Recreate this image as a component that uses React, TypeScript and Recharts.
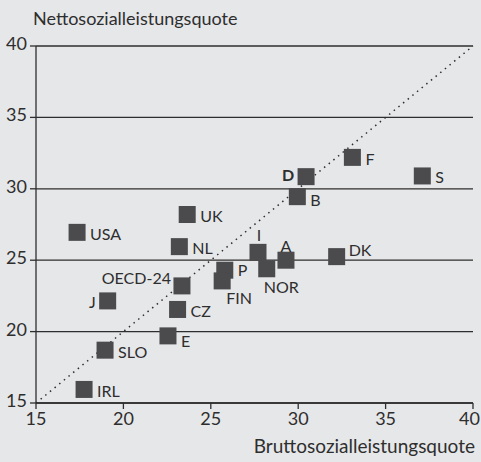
import React from 'react';
import {
  ScatterChart,
  Scatter,
  XAxis,
  YAxis,
  CartesianGrid,
  ReferenceLine
} from 'recharts';

// Länder und Quoten (in % des BIP)
const countries = ['F', 'D', 'S', 'B', 'UK', 'USA', 'NL', 'I', 'A', 'DK', 'NOR', 'P', 'FIN', 'OECD-24', 'J', 'CZ', 'E', 'SLO', 'IRL'];
const brutto = [33.1, 30.45, 37.1, 29.95, 23.65, 17.35, 23.2, 27.7, 29.3, 32.2, 28.2, 25.8, 25.65, 23.35, 19.1, 23.1, 22.55, 18.95, 17.75];
const netto = [32.2, 30.85, 30.9, 29.45, 28.2, 26.95, 25.95, 25.55, 25.0, 25.25, 24.4, 24.3, 23.55, 23.2, 22.15, 21.55, 19.7, 18.7, 15.95];
const ticks = [15, 20, 25, 30, 35, 40];

const data = countries.map((name, i) => ({ name, x: brutto[i], y: netto[i] }));

const FONT = 'Lato, "Open Sans", sans-serif';
const BG = '#e6e7e9';
const INK = '#2e2e2e';
const SQUARE = '#4b4b4d';

// where each label sits relative to its square
const labelSide: Record<string, { dx: number; dy: number; anchor: string; bold?: boolean }> = {
  B: { dx: 13, dy: 3, anchor: 'start' },
  E: { dx: 13, dy: 5, anchor: 'start' },
  DK: { dx: 12, dy: -7, anchor: 'start' },
  P: { dx: 13, dy: -1, anchor: 'start' },
  'OECD-24': { dx: -11, dy: -8, anchor: 'end' },
  J: { dx: -12, dy: 1, anchor: 'end' },
  D: { dx: -12, dy: -2, anchor: 'end', bold: true },
  I: { dx: 1, dy: -18, anchor: 'middle' },
  A: { dx: 0, dy: -15, anchor: 'middle' },
  FIN: { dx: 4, dy: 17, anchor: 'start' },
  NOR: { dx: -3, dy: 18, anchor: 'start' }
};

const CountryMark = (props: any) => {
  const { cx, cy, payload } = props;
  if (cx == null || cy == null) return null;
  const side = labelSide[payload.name] || { dx: 13, dy: 1, anchor: 'start' };
  return (
    <g>
      <rect x={cx - 8.5} y={cy - 8.5} width={17} height={17} fill={SQUARE} />
      <text
        x={cx + side.dx}
        y={cy + side.dy}
        textAnchor={side.anchor as any}
        dominantBaseline="central"
        fontFamily={FONT}
        fontSize={16}
        fontWeight={side.bold ? 700 : 400}
        fill={INK}
      >
        {payload.name}
      </text>
    </g>
  );
};

const XTick = (props: any) => {
  const { x, y, payload } = props;
  // last label would run past the right edge, so pin it there
  const last = payload.value === ticks[ticks.length - 1];
  return (
    <text
      x={last ? x + 7 : x}
      y={y + 7}
      textAnchor={last ? 'end' : 'middle'}
      dominantBaseline="central"
      fontFamily={FONT}
      fontSize={18}
      fill={INK}
    >
      {payload.value}
    </text>
  );
};

const YTick = (props: any) => {
  const { x, y, payload } = props;
  return (
    <text x={x - 1} y={y - 3} textAnchor="end" dominantBaseline="central" fontFamily={FONT} fontSize={18} fill={INK}>
      {payload.value}
    </text>
  );
};

export default function App() {
  return (
    <div style={{ position: 'absolute', left: 0, top: 0, width: 481, height: 462, background: BG, fontFamily: FONT }}>
      <div style={{ position: 'absolute', left: 33, top: 7, fontSize: 18, color: INK }}>
        Nettosozialleistungsquote
      </div>
      <div style={{ position: 'absolute', right: 6, top: 434, fontSize: 19, color: INK }}>
        Bruttosozialleistungsquote
      </div>
      <ScatterChart width={481} height={462} margin={{ top: 46, right: 8, left: 0, bottom: 0 }}>
        <CartesianGrid horizontal vertical={false} stroke={INK} strokeWidth={1.3} />
        <XAxis
          type="number"
          dataKey="x"
          domain={[15, 40]}
          ticks={ticks}
          height={59}
          stroke={INK}
          strokeWidth={1.3}
          tickSize={6}
          tick={<XTick />}
          allowDataOverflow
        />
        <YAxis
          type="number"
          dataKey="y"
          domain={[15, 40]}
          ticks={ticks}
          width={36}
          stroke={INK}
          strokeWidth={1.3}
          tickSize={6}
          tick={<YTick />}
          allowDataOverflow
        />
        <ReferenceLine
          segment={[{ x: 15, y: 15 }, { x: 40, y: 40 }]}
          stroke={INK}
          strokeWidth={1.5}
          strokeDasharray="1.5 4.5"
        />
        <Scatter data={data} shape={<CountryMark />} isAnimationActive={false} />
      </ScatterChart>
    </div>
  );
}
